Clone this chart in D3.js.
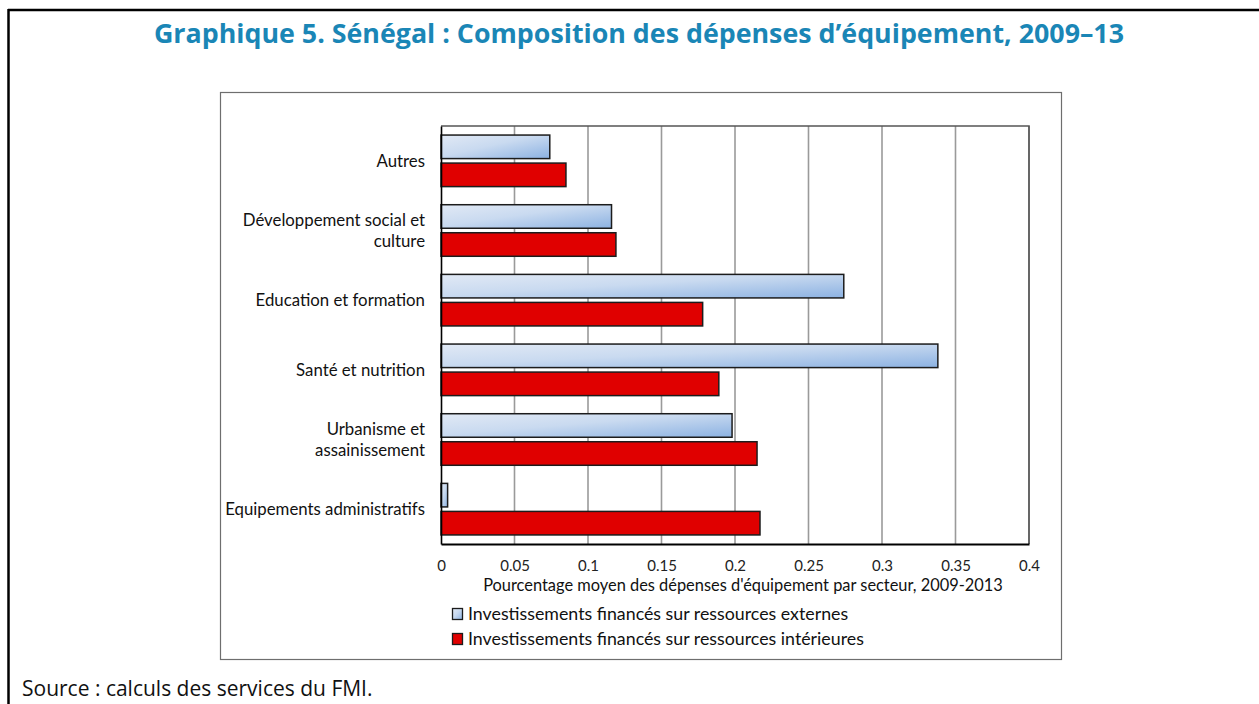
<!DOCTYPE html>
<html>
<head>
<meta charset="utf-8">
<script src="https://cdn.jsdelivr.net/npm/d3@7"></script>
<style>
  body { margin: 0; background: #fff; }
  svg text { font-family: Lato, "Open Sans", sans-serif; }
</style>
</head>
<body>
<div id="chart"></div>
<script>
var categories = [
  "Autres",
  "Développement social et\nculture",
  "Education et formation",
  "Santé et nutrition",
  "Urbanisme et\nassainissement",
  "Equipements administratifs",
];
var externes = [0.074, 0.116, 0.274, 0.338, 0.198, 0.0045];
var interieures = [0.085, 0.119, 0.178, 0.189, 0.215, 0.217];
var seriesNames = [
  "Investissements financés sur ressources externes",
  "Investissements financés sur ressources intérieures",
];
var xTicks = [0, 0.05, 0.1, 0.15, 0.2, 0.25, 0.3, 0.35, 0.4];

var W = 1259,
  H = 704;
// plot area inside the chart box
var plot = { left: 441, right: 1029, top: 126, bottom: 544 };

var svg = d3
  .select("#chart")
  .append("svg")
  .attr("width", W)
  .attr("height", H);

var defs = svg.append("defs");
var grad = defs
  .append("linearGradient")
  .attr("id", "blueGrad")
  .attr("x1", 0)
  .attr("y1", 0)
  .attr("x2", 1)
  .attr("y2", 1);
grad.append("stop").attr("offset", "0%").attr("stop-color", "#e1e9f5");
grad.append("stop").attr("offset", "45%").attr("stop-color", "#c9daf0");
grad.append("stop").attr("offset", "100%").attr("stop-color", "#8cb2e2");

// page frame (top and left rules)
svg
  .append("line")
  .attr("x1", 8)
  .attr("y1", 10)
  .attr("x2", W)
  .attr("y2", 10)
  .attr("stroke", "#000")
  .attr("stroke-width", 2.5);
svg
  .append("line")
  .attr("x1", 8.5)
  .attr("y1", 9)
  .attr("x2", 8.5)
  .attr("y2", H)
  .attr("stroke", "#000")
  .attr("stroke-width", 2.5);

svg
  .append("text")
  .attr("x", 639)
  .attr("y", 43)
  .attr("text-anchor", "middle")
  .style("font-family", "'Open Sans', sans-serif")
  .style("font-weight", "bold")
  .style("font-size", "26.8px")
  .style("fill", "#1a86b6")
  .text("Graphique 5. Sénégal : Composition des dépenses d’équipement, 2009–13");

// chart box
svg
  .append("rect")
  .attr("x", 220.5)
  .attr("y", 92.5)
  .attr("width", 841)
  .attr("height", 567)
  .attr("fill", "none")
  .attr("stroke", "#6e6e6e")
  .attr("stroke-width", 1.2);

var x = d3
  .scaleLinear()
  .domain([0, 0.4])
  .range([plot.left, plot.right]);

var y0 = d3
  .scaleBand()
  .domain(categories)
  .range([plot.top, plot.bottom])
  .paddingInner(0.26)
  .paddingOuter(0.13);

var y1 = d3
  .scaleBand()
  .domain(seriesNames)
  .range([0, y0.bandwidth()])
  .paddingInner(0.16);

var color = d3
  .scaleOrdinal()
  .domain(seriesNames)
  .range(["url(#blueGrad)", "#e00000"]);

// gridlines
svg
  .append("g")
  .selectAll("line")
  .data(xTicks.slice(1))
  .enter()
  .append("line")
  .attr("x1", function (d) {
    return x(d);
  })
  .attr("x2", function (d) {
    return x(d);
  })
  .attr("y1", plot.top)
  .attr("y2", plot.bottom)
  .attr("stroke", "#9a9a9a")
  .attr("stroke-width", 1.6);

// plot area top and right border
svg
  .append("path")
  .attr(
    "d",
    "M" + plot.left + "," + plot.top + "H" + plot.right + "V" + plot.bottom
  )
  .attr("fill", "none")
  .attr("stroke", "#555")
  .attr("stroke-width", 1.6);

var rows = categories.map(function (c, i) {
  return { cat: c, values: [externes[i], interieures[i]] };
});

svg
  .append("g")
  .selectAll("g")
  .data(rows)
  .enter()
  .append("g")
  .attr("transform", function (d) {
    return "translate(0," + y0(d.cat) + ")";
  })
  .selectAll("rect")
  .data(function (d) {
    return seriesNames.map(function (key, j) {
      return { key: key, value: d.values[j] };
    });
  })
  .enter()
  .append("rect")
  .attr("x", x(0))
  .attr("y", function (d) {
    return y1(d.key);
  })
  .attr("width", function (d) {
    return x(d.value) - x(0);
  })
  .attr("height", y1.bandwidth())
  .attr("fill", function (d) {
    return color(d.key);
  })
  .attr("stroke", "#1c1c1c")
  .attr("stroke-width", 1.5);

// axes
var xAxis = svg
  .append("g")
  .attr("transform", "translate(0," + plot.bottom + ")")
  .call(
    d3
      .axisBottom(x)
      .tickValues(xTicks)
      .tickSize(0)
      .tickPadding(16)
      .tickFormat(function (d) {
        return String(d);
      })
  );
xAxis.select(".domain").attr("stroke", "#000").attr("stroke-width", 2);
xAxis
  .selectAll("text")
  .style("font-size", "15px")
  .style("fill", "#222");

var yAxis = svg
  .append("g")
  .attr("transform", "translate(" + plot.left + ",0)")
  .call(d3.axisLeft(y0).tickSize(0).tickFormat(""));
yAxis.select(".domain").attr("stroke", "#000").attr("stroke-width", 1.6);

// category labels (wrapped)
var labels = svg
  .append("g")
  .selectAll("text")
  .data(categories)
  .enter()
  .append("text")
  .attr("text-anchor", "end")
  .style("font-size", "16.8px")
  .style("fill", "#111");
labels.each(function (d) {
  var lines = d.split("\n");
  var t = d3.select(this);
  var cy = y0(d) + y0.bandwidth() / 2;
  lines.forEach(function (ln, k) {
    t.append("tspan")
      .attr("x", 425)
      .attr("y", cy + (k - (lines.length - 1) / 2) * 20.5)
      .attr("dy", "0.35em")
      .text(ln);
  });
});

svg
  .append("text")
  .attr("x", 743)
  .attr("y", 591)
  .attr("text-anchor", "middle")
  .style("font-size", "16.4px")
  .style("fill", "#111")
  .text("Pourcentage moyen des dépenses d'équipement par secteur, 2009-2013");

// legend
var legend = svg
  .append("g")
  .selectAll("g")
  .data(seriesNames)
  .enter()
  .append("g")
  .attr("transform", function (d, i) {
    return "translate(452," + (608 + i * 25) + ")";
  });
legend
  .append("rect")
  .attr("x", 0.5)
  .attr("y", 0.5)
  .attr("width", 10)
  .attr("height", 11)
  .attr("fill", function (d) {
    return color(d);
  })
  .attr("stroke", "#1c1c1c")
  .attr("stroke-width", 1.3);
legend
  .append("text")
  .attr("x", 16)
  .attr("y", 6)
  .attr("dy", "0.35em")
  .style("font-size", "17.8px")
  .style("fill", "#111")
  .text(function (d) {
    return d;
  });

svg
  .append("text")
  .attr("x", 22)
  .attr("y", 696)
  .style("font-family", "'Open Sans', sans-serif")
  .style("font-size", "21px")
  .style("fill", "#111")
  .text("Source : calculs des services du FMI.");
</script>
</body>
</html>
